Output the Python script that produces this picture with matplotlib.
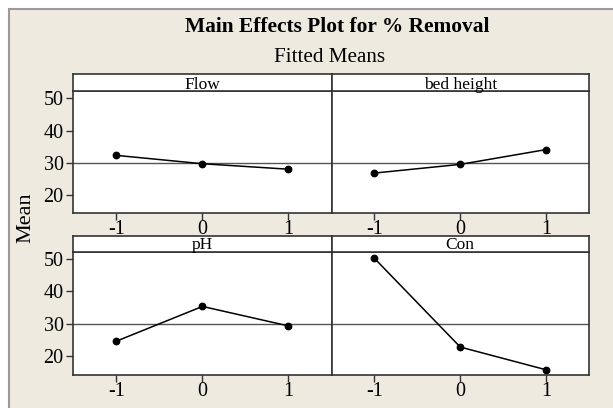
import matplotlib.pyplot as plt
from matplotlib.patches import Rectangle

# values
levels = [-1, 0, 1]
factors = ["Flow", "bed height", "pH", "Con"]
flow_means = [32.3, 29.7, 28.0]
bed_means = [26.8, 29.5, 34.1]
ph_means = [24.7, 35.4, 29.4]
con_means = [50.2, 22.9, 15.9]
grand_mean = 29.9
y_ticks = [20, 30, 40, 50]

W, H = 613, 408
BG = "#eeeae0"
SERIF = ["Liberation Serif", "DejaVu Serif"]
plt.rcParams["font.family"] = SERIF


def px(x0, y0, x1, y1):
    # pixel box (top-left origin) -> figure fraction rect
    return [x0 / W, 1 - y1 / H, (x1 - x0) / W, (y1 - y0) / H]


fig = plt.figure(figsize=(W / 100, H / 100), dpi=100)
fig.patch.set_facecolor("white")
fig.add_artist(Rectangle((8.5 / W, -0.01), 1.0, (H - 8.5) / H + 0.01,
                         transform=fig.transFigure, facecolor=BG,
                         edgecolor="#9a9a9a", linewidth=1.5, zorder=0))

fig.text(337 / W, 1 - 27 / H, "Main Effects Plot for % Removal",
         ha="center", va="center", fontsize=15.4, fontweight="bold")
fig.text(330 / W, 1 - 57 / H, "Fitted Means", ha="center", va="center",
         fontsize=15.2)
fig.text(26 / W, 1 - 218 / H, "Mean", ha="center", va="center",
         rotation=90, fontsize=16)

cols = [(73.3, 331.5), (331.5, 589)]
rows = [(74.3, 91, 213.3), (236, 251.5, 375)]
series = [flow_means, bed_means, ph_means, con_means]

for i, (name, vals) in enumerate(zip(factors, series)):
    r, c = divmod(i, 2)
    x0, x1 = cols[c]
    s0, a0, a1 = rows[r]

    ax = fig.add_axes(px(x0, a0, x1, a1))
    ax.set_facecolor("white")
    ax.axhline(grand_mean, color="#555555", linewidth=1.0, zorder=1)
    ax.plot(levels, vals, color="black", linewidth=1.1, marker="o",
            markersize=4.6, zorder=3)
    ax.set_xlim(-1.5, 1.5)
    ax.set_ylim(14.3, 52.3)
    ax.set_xticks(levels)
    ax.set_xticklabels(["-1", "0", "1"])
    ax.set_yticks(y_ticks)
    if c == 0:
        ax.tick_params(axis="y", labelsize=14.5, length=5, width=1,
                       color="#333333", pad=2)
    else:
        ax.tick_params(axis="y", left=False, labelleft=False)
    ax.tick_params(axis="x", labelsize=14.5, length=5, width=1,
                   color="#333333", pad=0)
    for sp in ax.spines.values():
        sp.set_color("#333333")
        sp.set_linewidth(1.2)

    # strip header drawn after the panel so its text is not covered
    strip = fig.add_axes(px(x0, s0, x1, a0))
    strip.set_facecolor("white")
    strip.set_xticks([])
    strip.set_yticks([])
    for sp in strip.spines.values():
        sp.set_color("#333333")
        sp.set_linewidth(1.2)
    strip.text(0.5, 0.14, name, ha="center", va="baseline", fontsize=12.5,
               transform=strip.transAxes)

fig.savefig("out.png", dpi=100, facecolor=fig.get_facecolor())
